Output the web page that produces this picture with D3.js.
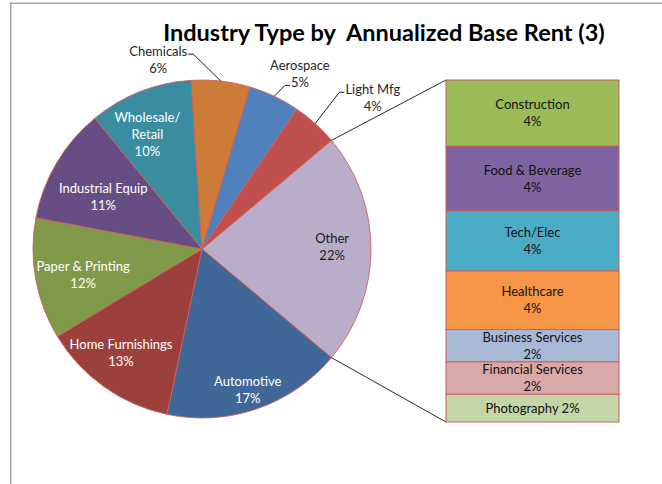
<!DOCTYPE html>
<html>
<head>
<meta charset="utf-8">
<script src="https://cdn.jsdelivr.net/npm/d3@7"></script>
<style>
  body { margin: 0; background: #fff; }
  svg { display: block; }
  text { font-family: Lato, "Open Sans", sans-serif; }
</style>
</head>
<body>
<svg id="chart" width="662" height="484"></svg>
<script>
// Main pie slices (clockwise after the "Other" slice), percent of annualized base rent
const pieCategories = ["Automotive", "Home Furnishings", "Paper & Printing", "Industrial Equip",
                       "Wholesale/Retail", "Chemicals", "Aerospace", "Light Mfg"];
const pieValues = [17.2, 13.0, 11.6, 11.1, 9.9, 5.6, 4.9, 4.4];

// Breakdown of the "Other" slice, drawn as the stacked bar
const barCategories = ["Construction", "Food & Beverage", "Tech/Elec", "Healthcare",
                       "Business Services", "Financial Services", "Photography"];
const barValues = [4.3, 4.2, 3.9, 3.8, 2.1, 2.1, 1.8];

const otherLabel = "Other";
const titleText = "Industry Type by  Annualized Base Rent (3)";

const pieColors = {
  "Other": "#b9adc9", "Automotive": "#3f6797", "Home Furnishings": "#9b403d",
  "Paper & Printing": "#7f9a48", "Industrial Equip": "#664e84", "Wholesale/Retail": "#3a8da0",
  "Chemicals": "#cd7b38", "Aerospace": "#4f81bd", "Light Mfg": "#c0504d"
};
const barColors = ["#9bbb59", "#8064a2", "#4bacc6", "#f79646", "#a7b9d7", "#d9a9a8", "#c4d6a8"];

// Label wording split over lines
const nameLines = {
  "Wholesale/Retail": ["Wholesale/", "Retail"]
};
const singleLine = new Set(["Photography"]);

// Label placement: radial factor of the pie radius and angular nudge (degrees) from the slice middle
const labelLayout = {
  "Other": { k: 0.77, da: -1, fill: "#1a1a1a" },
  "Automotive": { k: 0.875, da: 1, fill: "#ffffff" },
  "Home Furnishings": { k: 0.78, da: 2.5, fill: "#ffffff" },
  "Paper & Printing": { k: 0.72, da: -2, fill: "#ffffff" },
  "Industrial Equip": { k: 0.66, da: -3, fill: "#ffffff" },
  "Wholesale/Retail": { k: 0.75, da: -4, fill: "#ffffff" },
  "Chemicals": { k: 1.15, da: -19.4, fill: "#262626", leader: { line: 0, side: "right" } },
  "Aerospace": { k: 1.187, da: 3.9, fill: "#262626", leader: { line: 1, side: "left" } },
  "Light Mfg": { k: 1.35, da: 6.4, fill: "#262626", leader: { line: 0, side: "left" } }
};

const svg = d3.select("#chart");
const W = 662, H = 484;
const cx = 202, cy = 249, R = 169;
const barX0 = 446, barX1 = 619, barTop = 80, barBottom = 422;
const lineH = 17, fontSize = 13;

// Chart area frame (top and left edges visible)
svg.append("path")
  .attr("d", `M10.75,${H + 2} V3.25 H${W + 2}`)
  .attr("fill", "none").attr("stroke", "#a6a6a6").attr("stroke-width", 1.5);

// Title
svg.append("text")
  .attr("x", 384).attr("y", 41)
  .attr("text-anchor", "middle")
  .style("white-space", "pre")
  .attr("font-size", 23.5).attr("font-weight", 700).attr("fill", "#000")
  .text(titleText);

const otherTotal = d3.sum(barValues);
const pieData = [{ name: otherLabel, value: otherTotal }]
  .concat(pieCategories.map((c, i) => ({ name: c, value: pieValues[i] })));
const total = d3.sum(pieData, d => d.value);
const pct = v => Math.round(v / total * 100) + "%";

// "Other" slice is centred on the 3 o'clock direction
const otherSpan = otherTotal / total * 2 * Math.PI;
const start = Math.PI / 2 - otherSpan / 2;
const pie = d3.pie().sort(null).value(d => d.value)
  .startAngle(start).endAngle(start + 2 * Math.PI);
const arcs = pie(pieData);
const arc = d3.arc().innerRadius(0).outerRadius(R);

const g = svg.append("g").attr("transform", `translate(${cx},${cy})`);
g.selectAll("path.slice").data(arcs).join("path")
  .attr("class", "slice")
  .attr("d", arc)
  .attr("fill", d => pieColors[d.data.name])
  .attr("stroke", "#d0605c").attr("stroke-width", 0.9)
  .attr("stroke-linejoin", "round");

const polar = (r, a) => [r * Math.sin(a), -r * Math.cos(a)];

// Connector lines from the "Other" slice edges to the bar
const otherArc = arcs[0];
const pTop = polar(R, otherArc.startAngle), pBot = polar(R, otherArc.endAngle);
svg.append("line")
  .attr("x1", cx + pTop[0]).attr("y1", cy + pTop[1]).attr("x2", barX0).attr("y2", barTop)
  .attr("stroke", "#2b2b2b").attr("stroke-width", 1);
svg.append("line")
  .attr("x1", cx + pBot[0]).attr("y1", cy + pBot[1]).attr("x2", barX0).attr("y2", barBottom)
  .attr("stroke", "#2b2b2b").attr("stroke-width", 1);

// Pie labels
arcs.forEach(d => {
  const name = d.data.name;
  const lay = labelLayout[name];
  const mid = (d.startAngle + d.endAngle) / 2;
  const [lx, ly] = polar(R * lay.k, mid + lay.da * Math.PI / 180);
  const lines = (nameLines[name] || [name]).concat([pct(d.value)]);
  const x0 = cx + lx, y0 = cy + ly - (lines.length - 1) * lineH / 2;
  const t = svg.append("text")
    .attr("text-anchor", "middle")
    .attr("font-size", fontSize).attr("fill", lay.fill);
  const spans = lines.map((s, i) => t.append("tspan")
    .attr("x", x0).attr("y", y0 + i * lineH + 4.5).text(s));
  if (lay.leader) {
    const li = lay.leader.line;
    const w = spans[li].node().getComputedTextLength();
    const yy = y0 + li * lineH + 3;
    const ex = lay.leader.side === "right" ? x0 + w / 2 + 1 : x0 - w / 2 - 1;
    const sx = lay.leader.side === "right" ? ex + 5 : ex - 5;
    const [ax, ay] = polar(R, mid);
    svg.append("path")
      .attr("d", `M${ex},${yy} H${sx} L${cx + ax},${cy + ay}`)
      .attr("fill", "none").attr("stroke", "#1a1a1a").attr("stroke-width", 1);
  }
});

// Stacked bar for the "Other" breakdown
const y = d3.scaleLinear().domain([0, otherTotal]).range([barTop, barBottom]);
let acc = 0;
const segs = barValues.map((v, i) => {
  const s = { name: barCategories[i], value: v, y0: acc, y1: acc + v, color: barColors[i] };
  acc += v;
  return s;
});
svg.selectAll("rect.seg").data(segs).join("rect")
  .attr("class", "seg")
  .attr("x", barX0).attr("width", barX1 - barX0)
  .attr("y", d => y(d.y0)).attr("height", d => y(d.y1) - y(d.y0))
  .attr("fill", d => d.color)
  .attr("stroke", "#c8605c").attr("stroke-width", 1);

segs.forEach(d => {
  const lines = singleLine.has(d.name) ? [d.name + " " + pct(d.value)] : [d.name, pct(d.value)];
  const ymid = (y(d.y0) + y(d.y1)) / 2;
  const y0 = ymid - (lines.length - 1) * lineH / 2;
  const t = svg.append("text").attr("text-anchor", "middle")
    .attr("font-size", fontSize).attr("fill", "#111");
  lines.forEach((s, i) => t.append("tspan")
    .attr("x", (barX0 + barX1) / 2).attr("y", y0 + i * lineH + 4.5).text(s));
});
</script>
</body>
</html>
